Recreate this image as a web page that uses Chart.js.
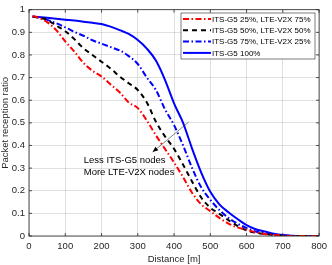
<!DOCTYPE html>
<html>
<head>
<meta charset="utf-8">
<script src="https://cdn.jsdelivr.net/npm/chart.js@4"></script>
<style>
  html, body { margin: 0; padding: 0; background: #fff; }
  #wrap { width: 332px; height: 265px; }
</style>
</head>
<body>
<div id="wrap"><canvas id="prr"></canvas></div>
<script>
const distances = [10, 25, 50, 75, 100, 125, 150, 175, 200, 225, 250, 275, 300, 325, 350, 375, 400,
    425, 450, 475, 500, 525, 550, 575, 600, 625, 650, 675, 700, 725, 750, 775, 800];

const g5_25 = [0.972, 0.965, 0.945, 0.91, 0.86, 0.815, 0.765, 0.73, 0.705, 0.67, 0.635, 0.59, 0.565, 0.51, 0.445, 0.385, 0.325,
    0.26, 0.19, 0.14, 0.11, 0.08, 0.055, 0.038, 0.028, 0.016, 0.009, 0.005, 0.002, 0, 0, 0, 0];
const g5_50 = [0.97, 0.965, 0.955, 0.93, 0.905, 0.87, 0.83, 0.80, 0.77, 0.74, 0.705, 0.675, 0.645, 0.59, 0.505, 0.44, 0.385,
    0.315, 0.24, 0.17, 0.125, 0.098, 0.07, 0.045, 0.025, 0.015, 0.009, 0.004, 0.001, 0, 0, 0, 0];
const g5_75 = [0.97, 0.965, 0.955, 0.94, 0.922, 0.902, 0.885, 0.865, 0.85, 0.835, 0.82, 0.795, 0.76, 0.70, 0.645, 0.56, 0.49,
    0.40, 0.30, 0.215, 0.16, 0.115, 0.08, 0.055, 0.035, 0.02, 0.012, 0.006, 0.002, 0, 0, 0, 0];
const g5_100 = [0.97, 0.968, 0.964, 0.96, 0.956, 0.952, 0.947, 0.942, 0.937, 0.925, 0.91, 0.893, 0.866, 0.828, 0.775, 0.69, 0.586,
    0.50, 0.385, 0.28, 0.195, 0.14, 0.105, 0.075, 0.048, 0.03, 0.02, 0.01, 0.004, 0.001, 0, 0, 0];

const seriesNames = ["ITS-G5 25%, LTE-V2X 75%", "ITS-G5 50%, LTE-V2X 50%", "ITS-G5 75%, LTE-V2X 25%", "ITS-G5 100%"];
const noteLines = ["Less ITS-G5 nodes", "More LTE-V2X nodes"];

const FONT = "Liberation Sans, Arial, Helvetica, sans-serif";
const AXIS = "#262626";

function pts(vals) {
    return distances.map((d, i) => ({ x: d, y: vals[i] }));
}

// box, inward ticks, legend and the arrow note
const matlabStyle = {
    id: "matlabStyle",
    afterDatasetsDraw(chart) {
        const ctx = chart.ctx;
        const a = chart.chartArea;
        const xs = chart.scales.x, ys = chart.scales.y;
        ctx.save();
        ctx.strokeStyle = AXIS;
        ctx.lineWidth = 0.8;
        ctx.strokeRect(a.left, a.top, a.right - a.left, a.bottom - a.top);
        ctx.beginPath();
        xs.ticks.forEach(t => {
            const px = xs.getPixelForValue(t.value);
            ctx.moveTo(px, a.bottom); ctx.lineTo(px, a.bottom - 3);
            ctx.moveTo(px, a.top); ctx.lineTo(px, a.top + 3);
        });
        ys.ticks.forEach(t => {
            const py = ys.getPixelForValue(t.value);
            ctx.moveTo(a.left, py); ctx.lineTo(a.left + 3, py);
            ctx.moveTo(a.right, py); ctx.lineTo(a.right - 3, py);
        });
        ctx.stroke();

        // arrow
        const x0 = xs.getPixelForValue(440), y0 = ys.getPixelForValue(0.503);
        const x1 = xs.getPixelForValue(341), y1 = ys.getPixelForValue(0.371);
        ctx.strokeStyle = "#333";
        ctx.lineWidth = 0.6;
        ctx.beginPath();
        ctx.moveTo(x0, y0); ctx.lineTo(x1, y1);
        ctx.stroke();
        const ang = Math.atan2(y1 - y0, x1 - x0);
        ctx.fillStyle = "#000";
        ctx.beginPath();
        ctx.moveTo(x1, y1);
        ctx.lineTo(x1 - 6 * Math.cos(ang - 0.4), y1 - 6 * Math.sin(ang - 0.4));
        ctx.lineTo(x1 - 6 * Math.cos(ang + 0.4), y1 - 6 * Math.sin(ang + 0.4));
        ctx.closePath();
        ctx.fill();

        ctx.font = "9.5px " + FONT;
        ctx.fillStyle = "#000";
        ctx.textBaseline = "middle";
        ctx.textAlign = "left";
        const tx = xs.getPixelForValue(151);
        ctx.fillText(noteLines[0], tx, ys.getPixelForValue(0.333));
        ctx.fillText(noteLines[1], tx, ys.getPixelForValue(0.283));

        // legend
        const lx = 181, ly = 13, lw = 134, lh = 46;
        ctx.fillStyle = "#fff";
        ctx.fillRect(lx, ly, lw, lh);
        ctx.strokeStyle = AXIS;
        ctx.lineWidth = 0.6;
        ctx.strokeRect(lx, ly, lw, lh);
        ctx.font = "8px " + FONT;
        chart.data.datasets.forEach((ds, i) => {
            const yy = ly + 6 + i * 11.3;
            ctx.strokeStyle = ds.borderColor;
            ctx.lineWidth = ds.borderWidth;
            ctx.setLineDash(ds.borderDash || []);
            ctx.beginPath();
            ctx.moveTo(lx + 2, yy); ctx.lineTo(lx + 30, yy);
            ctx.stroke();
            ctx.setLineDash([]);
            ctx.fillStyle = "#000";
            ctx.fillText(ds.label, lx + 31, yy + 0.5);
        });
        ctx.restore();
    }
};

new Chart(document.getElementById("prr"), {
    type: "line",
    data: {
        datasets: [
            { label: seriesNames[0], data: pts(g5_25), borderColor: "#ff0000", borderWidth: 2, borderDash: [6, 2.5, 1.5, 2.5] },
            { label: seriesNames[1], data: pts(g5_50), borderColor: "#000000", borderWidth: 2, borderDash: [5, 4] },
            { label: seriesNames[2], data: pts(g5_75), borderColor: "#0000ff", borderWidth: 2, borderDash: [6, 2.5, 1.5, 2.5] },
            { label: seriesNames[3], data: pts(g5_100), borderColor: "#0000ff", borderWidth: 2 }
        ]
    },
    options: {
        responsive: true,
        maintainAspectRatio: false,
        animation: false,
        parsing: false,
        elements: { point: { radius: 0 }, line: { cubicInterpolationMode: "monotone", fill: false } },
        layout: { padding: { left: 0, right: 8, top: 4, bottom: 0 } },
        plugins: { legend: { display: false }, tooltip: { enabled: false } },
        scales: {
            x: {
                type: "linear",
                min: 0, max: 800,
                afterFit(s) { s.height = 29; },
                ticks: { stepSize: 100, color: AXIS, font: { size: 9.5, family: FONT }, padding: 5, maxRotation: 0 },
                grid: { color: "rgba(0,0,0,0.12)", drawTicks: false },
                border: { display: false },
                title: { display: true, text: "Distance [m]", color: AXIS, font: { size: 9.5, family: FONT }, padding: { top: 0, bottom: 0 } }
            },
            y: {
                min: 0, max: 1,
                afterFit(s) { s.width = 29; },
                ticks: {
                    stepSize: 0.1, color: AXIS, font: { size: 9.5, family: FONT }, padding: 4,
                    callback: v => String(Math.round(v * 10) / 10)
                },
                grid: { color: "rgba(0,0,0,0.12)", drawTicks: false },
                border: { display: false },
                title: { display: true, text: "Packet reception ratio", color: AXIS, font: { size: 9.5, family: FONT }, padding: { top: 0, bottom: 0 } }
            }
        }
    },
    plugins: [matlabStyle]
});
</script>
</body>
</html>
